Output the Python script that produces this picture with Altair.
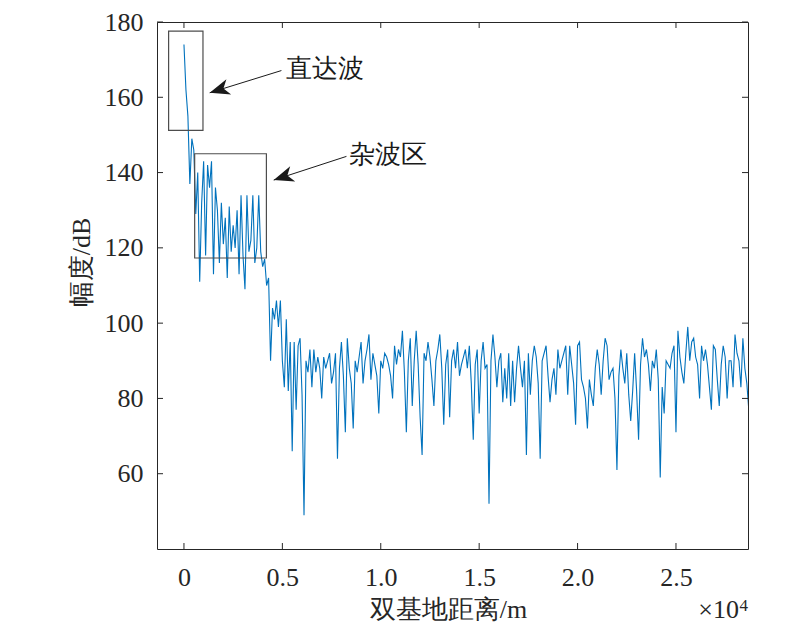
import altair as alt
import pandas as pd

# ---- data ----
step_m = 100  # sampling interval of the range profile (m)
amp_db = [
    174, 162, 155, 137, 149, 146, 129, 140, 111, 132, 143, 118, 142, 136, 143, 113,
    136, 130, 116, 132, 121, 128, 112, 131, 119, 126, 120, 130, 113, 134, 118, 109,
    134, 119, 122, 134, 116, 120, 134, 119, 115,
    117, 110, 112, 90, 104, 101, 106, 99, 106, 90, 83, 101, 82, 95, 66, 95, 77, 94, 96, 81,
    49, 90, 87, 93, 83, 93, 87, 91, 88, 80, 91, 88, 90, 92, 84, 87, 92, 64, 88, 95,
    86, 71, 96, 88, 84, 72, 90, 87, 91, 95, 84, 90, 93, 97, 85, 92, 89, 86, 76, 90,
    88, 92, 91, 89, 86, 80, 94, 89, 93, 91, 98, 87, 71, 90, 96, 78, 90, 98, 89, 75,
    65, 92, 90, 95, 91, 85, 78, 90, 93, 97, 88, 73, 89, 93, 75, 90, 93, 88, 95, 86,
    89, 91, 93, 88, 94, 84, 69, 89, 93, 76, 90, 95, 88, 89, 52, 90, 97, 91, 83, 90,
    92, 79, 88,
    80, 92, 78, 90, 79, 88, 94, 88, 83, 90,
    65, 92, 81, 90, 94, 91, 84, 64, 90, 92,
    94, 86, 79, 85, 88, 81, 93, 88, 90, 92,
    94, 81, 94, 89, 84, 73, 94, 95, 85, 83,
    80, 72, 85, 81, 78, 88, 93, 89, 81, 90,
    96, 94, 85, 87, 88, 80, 61, 86, 93, 88,
    84, 92, 81, 74, 82, 92, 82, 69, 89, 96,
    91, 93, 89, 82, 90, 88, 93, 85, 59, 83,
    76, 90, 89, 88, 92, 94, 71, 98, 91, 87,
    84, 92, 99, 90, 95, 96, 91, 89, 80, 94,
    90, 93, 89, 83, 77, 94, 93, 85, 78, 89,
    94, 91, 80, 90, 90, 83, 97, 92, 90, 83,
    96, 88, 84, 77,
]
dist_m = [i * step_m for i in range(len(amp_db))]

x_ticks = [0, 5000, 10000, 15000, 20000, 25000]
y_ticks = [60, 80, 100, 120, 140, 160, 180]

# annotation boxes: x1, x2, y1, y2
box_x1 = [-780, 544]
box_x2 = [966, 4189]
box_y1 = [177.6, 145.0]
box_y2 = [151.2, 117.3]

# arrows: tail -> tip
arr_tail_x = [4952, 8257]
arr_tail_y = [167.1, 144.3]
arr_tip_x = [1307, 4560]
arr_tip_y = [161.2, 138.0]
arr_angle = [342.7, 341.7]

ann_text = ["直达波", "杂波区"]
ann_x = [5170, 8373]
ann_y = [167.6, 144.8]

# ---- layout ----
W, H = 591, 527
FONT = "Liberation Serif"
AX = "#262626"
LINE = "#0072BD"
TL = 6

xscale = alt.Scale(domain=[-1370, 28660], nice=False, zero=False)
yscale = alt.Scale(domain=[40, 180], nice=False, zero=False)

xaxis = alt.Axis(
    values=x_ticks, ticks=False, domain=False, grid=False,
    labelExpr="datum.value == 0 ? '0' : format(datum.value / 10000, '.1f')",
    labelFont=FONT, labelFontSize=26, labelColor=AX, labelPadding=15,
    labelFlush=False, labelOverlap=False,
    title="双基地距离/m", titleFont=FONT, titleFontSize=26, titleFontWeight="normal",
    titleColor=AX, titleX=291, titleY=60, titleBaseline="middle", titleAlign="center",
)
yaxis = alt.Axis(
    values=y_ticks, ticks=False, domain=False, grid=False,
    labelFont=FONT, labelFontSize=26, labelColor=AX, labelPadding=14,
    labelFlush=False, labelOverlap=False,
    title="幅度/dB", titleFont=FONT, titleFontSize=26, titleFontWeight="normal",
    titleColor=AX, titleAngle=270, titleX=-76, titleY=240,
    titleBaseline="middle", titleAlign="center",
)

df = pd.DataFrame({"dist": dist_m, "amp": amp_db})

line = alt.Chart(df).mark_line(color=LINE, strokeWidth=1.1, clip=True).encode(
    x=alt.X("dist:Q", scale=xscale, axis=xaxis),
    y=alt.Y("amp:Q", scale=yscale, axis=yaxis),
    order="dist:Q",
)

xt = pd.DataFrame({"dist": x_ticks})
yt = pd.DataFrame({"amp": y_ticks})

xtick_b = alt.Chart(xt).mark_rule(color=AX, strokeWidth=1).encode(
    x=alt.X("dist:Q", scale=xscale, axis=xaxis), y=alt.value(H), y2=alt.value(H - TL))
xtick_t = alt.Chart(xt).mark_rule(color=AX, strokeWidth=1).encode(
    x=alt.X("dist:Q", scale=xscale, axis=xaxis), y=alt.value(0), y2=alt.value(TL))
ytick_l = alt.Chart(yt).mark_rule(color=AX, strokeWidth=1).encode(
    y=alt.Y("amp:Q", scale=yscale, axis=yaxis), x=alt.value(0), x2=alt.value(TL))
ytick_r = alt.Chart(yt).mark_rule(color=AX, strokeWidth=1).encode(
    y=alt.Y("amp:Q", scale=yscale, axis=yaxis), x=alt.value(W), x2=alt.value(W - TL))

boxes = pd.DataFrame({"dist": box_x1, "dist2": box_x2, "amp": box_y1, "amp2": box_y2})
rects = alt.Chart(boxes).mark_rect(fillOpacity=0, stroke="#4d4d4d", strokeWidth=1.2).encode(
    x=alt.X("dist:Q", scale=xscale, axis=xaxis), x2="dist2:Q",
    y=alt.Y("amp:Q", scale=yscale, axis=yaxis), y2="amp2:Q",
)

arrows = pd.DataFrame({"dist": arr_tail_x, "amp": arr_tail_y,
                       "dist2": arr_tip_x, "amp2": arr_tip_y})
shafts = alt.Chart(arrows).mark_rule(color="#1a1a1a", strokeWidth=1).encode(
    x=alt.X("dist:Q", scale=xscale, axis=xaxis), x2="dist2:Q",
    y=alt.Y("amp:Q", scale=yscale, axis=yaxis), y2="amp2:Q",
)
heads_df = pd.DataFrame({"dist": arr_tip_x, "amp": arr_tip_y, "ang": arr_angle})
heads = alt.Chart(heads_df).mark_point(
    shape="M0,0 L1,-0.4 L0.72,0 L1,0.4 Z", filled=True, size=1600,
    color="#1a1a1a", opacity=1, strokeWidth=0,
).encode(
    x=alt.X("dist:Q", scale=xscale, axis=xaxis),
    y=alt.Y("amp:Q", scale=yscale, axis=yaxis),
    angle=alt.Angle("ang:Q", scale=None),
)

texts_df = pd.DataFrame({"dist": ann_x, "amp": ann_y, "t": ann_text})
texts = alt.Chart(texts_df).mark_text(
    align="left", baseline="middle", font=FONT, fontSize=26, color="#1a1a1a",
).encode(
    x=alt.X("dist:Q", scale=xscale, axis=xaxis),
    y=alt.Y("amp:Q", scale=yscale, axis=yaxis),
    text="t:N",
)

exp_base = alt.Chart(pd.DataFrame({"t": ["×10"]})).mark_text(
    align="right", baseline="alphabetic", font=FONT, fontSize=26, color=AX,
).encode(x=alt.value(582), y=alt.value(596), text="t:N")
exp_sup = alt.Chart(pd.DataFrame({"t": ["4"]})).mark_text(
    align="left", baseline="alphabetic", font=FONT, fontSize=17, color=AX,
).encode(x=alt.value(582.5), y=alt.value(589), text="t:N")

chart = alt.layer(
    line, rects, shafts, heads, texts, xtick_b, xtick_t, ytick_l, ytick_r, exp_base, exp_sup
).properties(
    width=W, height=H,
    autosize=alt.AutoSizeParams(type="none"),
    padding={"left": 149, "top": 14, "right": 30, "bottom": 80},
).configure_view(stroke=AX, strokeWidth=1)

chart.save("out.html", embed_options={"renderer": "svg", "actions": False})
